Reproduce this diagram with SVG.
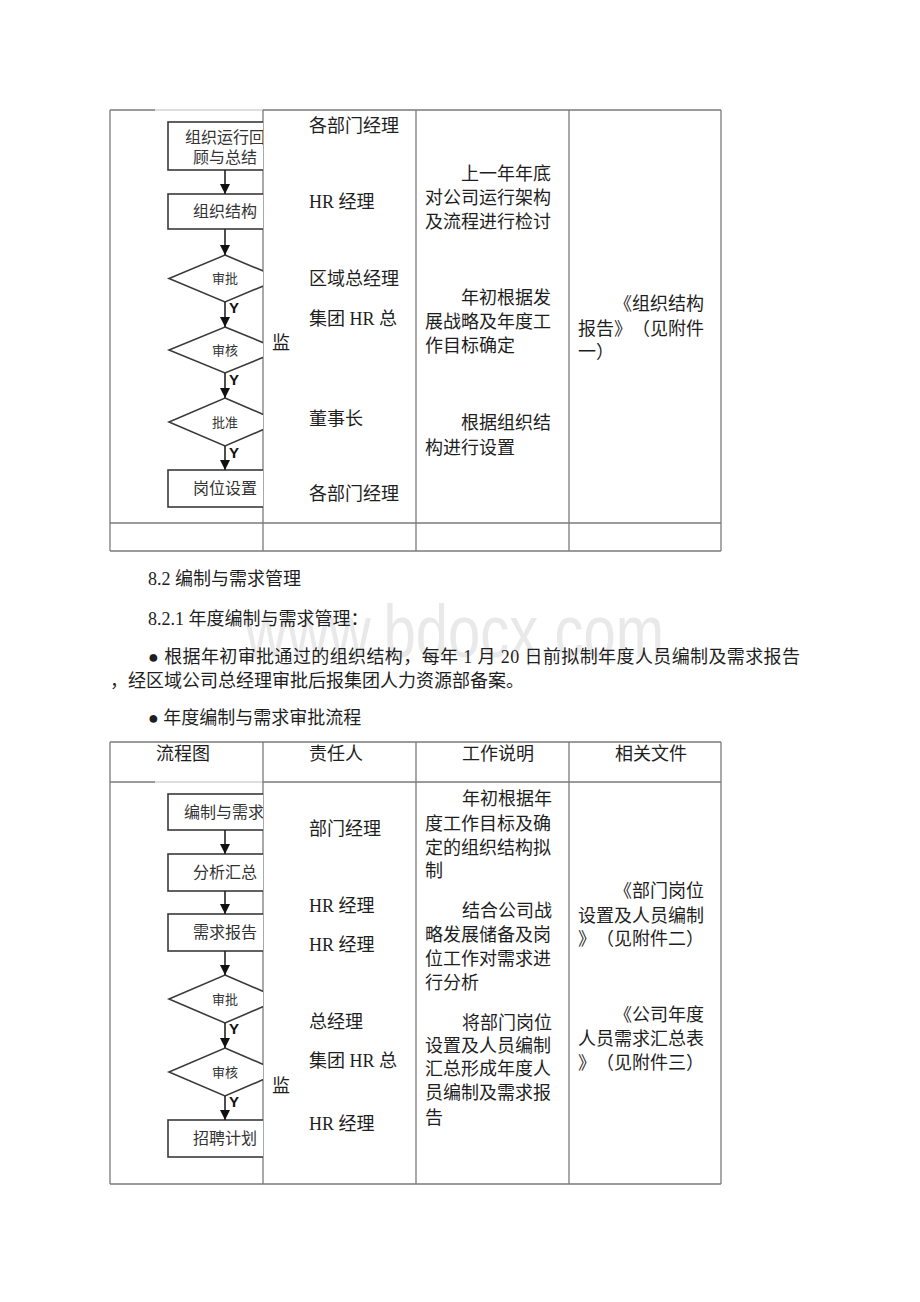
<svg xmlns="http://www.w3.org/2000/svg" width="920" height="1302" viewBox="0 0 920 1302">
<style>
.grid{stroke:#7a7a7a;stroke-width:1.3;fill:none}
.gridl{stroke:#bdbdbd;stroke-width:1.2;fill:none}
.t{font-family:"Liberation Serif","Noto Sans CJK SC",serif;font-size:18px;fill:#1e1e1e}
.box{fill:#fff;stroke:#3a3a3a;stroke-width:1.6}
.bt{font-family:"Liberation Serif","Noto Sans CJK SC",serif;font-size:16px;fill:#333;text-anchor:middle}
.dt{font-family:"Liberation Serif","Noto Sans CJK SC",serif;font-size:13px;fill:#333;text-anchor:middle}
.y{font-family:"Liberation Sans",Arial,sans-serif;font-size:15px;font-weight:bold;fill:#111}
.ln{stroke:#222;stroke-width:1.6;fill:none}
.wm{font-family:"Liberation Sans",Arial,sans-serif;font-size:74px;fill:#e9e9e9}
</style>
<defs>
<marker id="ah" viewBox="0 0 10 10" refX="10" refY="5" markerWidth="10" markerHeight="10" markerUnits="userSpaceOnUse" orient="auto">
<path d="M0,0 L10,5 L0,10 z" fill="#111"/>
</marker>
<clipPath id="fc1"><rect x="111" y="111" width="152" height="412"/></clipPath>
<clipPath id="fc2"><rect x="111" y="782" width="152" height="401"/></clipPath>
</defs>
<rect width="920" height="1302" fill="#fff"/>

<text class="wm" x="245" y="657" textLength="419" lengthAdjust="spacingAndGlyphs">www.bdocx.com</text>

<!-- Table 1 grid -->
<g id="table1">
<line class="grid" x1="110" y1="110" x2="155" y2="110"/>
<line class="gridl" x1="155" y1="110" x2="263" y2="110"/>
<line class="grid" x1="263" y1="110" x2="721" y2="110"/>
<line class="grid" x1="110" y1="110" x2="110" y2="551"/>
<line class="grid" x1="263" y1="110" x2="263" y2="551"/>
<line class="grid" x1="416" y1="110" x2="416" y2="551"/>
<line class="grid" x1="569" y1="110" x2="569" y2="551"/>
<line class="grid" x1="721" y1="110" x2="721" y2="551"/>
<line class="grid" x1="110" y1="523" x2="721" y2="523"/>
<line class="grid" x1="110" y1="551" x2="721" y2="551"/>
</g>

<!-- Flowchart 1 -->
<g clip-path="url(#fc1)">
<g id="n1-review"><rect class="box" x="168" y="122" width="114" height="48"/>
<text class="bt" x="225" y="143">组织运行回</text><text class="bt" x="225" y="163">顾与总结</text></g>
<g id="n1-structure"><rect class="box" x="168" y="194" width="114" height="35"/>
<text class="bt" x="225" y="217">组织结构</text></g>
<g id="n1-approve"><polygon class="box" points="225,255 281,278.5 225,302 169,278.5"/>
<text class="dt" x="225" y="283">审批</text></g>
<g id="n1-audit"><polygon class="box" points="225,327 281,350 225,373 169,350"/>
<text class="dt" x="225" y="355">审核</text></g>
<g id="n1-ratify"><polygon class="box" points="225,398 281,422 225,446 169,422"/>
<text class="dt" x="225" y="427">批准</text></g>
<g id="n1-post"><rect class="box" x="168" y="470" width="114" height="37"/>
<text class="bt" x="225" y="494">岗位设置</text></g>
</g>
<g id="connectors1">
<line class="ln" x1="225" y1="170" x2="225" y2="194" marker-end="url(#ah)"/>
<line class="ln" x1="225" y1="229" x2="225" y2="255" marker-end="url(#ah)"/>
<line class="ln" x1="225" y1="302" x2="225" y2="327" marker-end="url(#ah)"/>
<line class="ln" x1="225" y1="373" x2="225" y2="398" marker-end="url(#ah)"/>
<line class="ln" x1="225" y1="446" x2="225" y2="470" marker-end="url(#ah)"/>
<text class="y" x="229" y="313">Y</text>
<text class="y" x="229" y="385">Y</text>
<text class="y" x="229" y="458">Y</text>
</g>

<g id="table1-text">
<text class="t" x="309" y="132">各部门经理</text>
<text class="t" x="309" y="208">HR 经理</text>
<text class="t" x="309" y="285">区域总经理</text>
<text class="t" x="309" y="325">集团 HR 总</text>
<text class="t" x="272" y="349">监</text>
<text class="t" x="309" y="425">董事长</text>
<text class="t" x="309" y="500">各部门经理</text>

<text class="t" x="461" y="180">上一年年底</text>
<text class="t" x="425" y="204">对公司运行架构</text>
<text class="t" x="425" y="228">及流程进行检讨</text>
<text class="t" x="461" y="304">年初根据发</text>
<text class="t" x="425" y="328">展战略及年度工</text>
<text class="t" x="425" y="352">作目标确定</text>
<text class="t" x="461" y="429">根据组织结</text>
<text class="t" x="425" y="454">构进行设置</text>

<text class="t" x="614 632 650 668 686" y="310">《组织结构</text>
<text class="t" x="578 596 614 632 650 668 686" y="335">报告》（见附件</text>
<text class="t" x="578 596" y="358">一）</text>
</g>

<g id="section-text">
<text class="t" x="148" y="585">8.2 编制与需求管理</text>
<text class="t" x="148" y="625">8.2.1 年度编制与需求管理：</text>
<text class="t" x="148" y="663" textLength="652" lengthAdjust="spacing">● 根据年初审批通过的组织结构，每年 1 月 20 日前拟制年度人员编制及需求报告</text>
<text class="t" x="110" y="687" textLength="414" lengthAdjust="spacing">，经区域公司总经理审批后报集团人力资源部备案。</text>
<text class="t" x="148" y="724">● 年度编制与需求审批流程</text>
</g>

<!-- Table 2 grid -->
<g id="table2">
<line class="grid" x1="110" y1="742" x2="721" y2="742"/>
<line class="grid" x1="110" y1="782" x2="155" y2="782"/>
<line class="gridl" x1="155" y1="782" x2="263" y2="782"/>
<line class="grid" x1="263" y1="782" x2="721" y2="782"/>
<line class="grid" x1="110" y1="742" x2="110" y2="1184"/>
<line class="grid" x1="263" y1="742" x2="263" y2="1184"/>
<line class="grid" x1="416" y1="742" x2="416" y2="1184"/>
<line class="grid" x1="569" y1="742" x2="569" y2="1184"/>
<line class="grid" x1="721" y1="742" x2="721" y2="1184"/>
<line class="grid" x1="110" y1="1184" x2="721" y2="1184"/>
<text class="t" x="156" y="760">流程图</text>
<text class="t" x="309" y="760">责任人</text>
<text class="t" x="462" y="760">工作说明</text>
<text class="t" x="615" y="760">相关文件</text>
</g>

<!-- Flowchart 2 -->
<g clip-path="url(#fc2)">
<g id="n2-compile"><rect class="box" x="168" y="794" width="114" height="36"/>
<text class="bt" x="184" y="818" style="text-anchor:start">编制与需求</text></g>
<g id="n2-summary"><rect class="box" x="168" y="854" width="114" height="37"/>
<text class="bt" x="225" y="878">分析汇总</text></g>
<g id="n2-report"><rect class="box" x="168" y="914" width="114" height="37"/>
<text class="bt" x="225" y="938">需求报告</text></g>
<g id="n2-approve"><polygon class="box" points="225,975 281,999 225,1023 169,999"/>
<text class="dt" x="225" y="1004">审批</text></g>
<g id="n2-audit"><polygon class="box" points="225,1048 281,1072 225,1096 169,1072"/>
<text class="dt" x="225" y="1077">审核</text></g>
<g id="n2-plan"><rect class="box" x="168" y="1120" width="114" height="37"/>
<text class="bt" x="225" y="1144">招聘计划</text></g>
</g>
<g id="connectors2">
<line class="ln" x1="225" y1="830" x2="225" y2="854" marker-end="url(#ah)"/>
<line class="ln" x1="225" y1="891" x2="225" y2="914" marker-end="url(#ah)"/>
<line class="ln" x1="225" y1="951" x2="225" y2="975" marker-end="url(#ah)"/>
<line class="ln" x1="225" y1="1023" x2="225" y2="1048" marker-end="url(#ah)"/>
<line class="ln" x1="225" y1="1096" x2="225" y2="1120" marker-end="url(#ah)"/>
<text class="y" x="229" y="1034">Y</text>
<text class="y" x="229" y="1107">Y</text>
</g>

<g id="table2-text">
<text class="t" x="309" y="835">部门经理</text>
<text class="t" x="309" y="912">HR 经理</text>
<text class="t" x="309" y="951">HR 经理</text>
<text class="t" x="309" y="1028">总经理</text>
<text class="t" x="309" y="1067">集团 HR 总</text>
<text class="t" x="272" y="1092">监</text>
<text class="t" x="309" y="1130">HR 经理</text>

<text class="t" x="462" y="805">年初根据年</text>
<text class="t" x="425" y="830">度工作目标及确</text>
<text class="t" x="425" y="854">定的组织结构拟</text>
<text class="t" x="425" y="877">制</text>
<text class="t" x="462" y="917">结合公司战</text>
<text class="t" x="425" y="941">略发展储备及岗</text>
<text class="t" x="425" y="965">位工作对需求进</text>
<text class="t" x="425" y="989">行分析</text>
<text class="t" x="462" y="1029">将部门岗位</text>
<text class="t" x="425" y="1052">设置及人员编制</text>
<text class="t" x="425" y="1075">汇总形成年度人</text>
<text class="t" x="425" y="1099">员编制及需求报</text>
<text class="t" x="425" y="1124">告</text>

<text class="t" x="614 632 650 668 686" y="897">《部门岗位</text>
<text class="t" x="578" y="922">设置及人员编制</text>
<text class="t" x="578 596 614 632 650 668 686" y="945">》（见附件二）</text>
<text class="t" x="614 632 650 668 686" y="1021">《公司年度</text>
<text class="t" x="578" y="1045">人员需求汇总表</text>
<text class="t" x="578 596 614 632 650 668 686" y="1069">》（见附件三）</text>
</g>
</svg>
